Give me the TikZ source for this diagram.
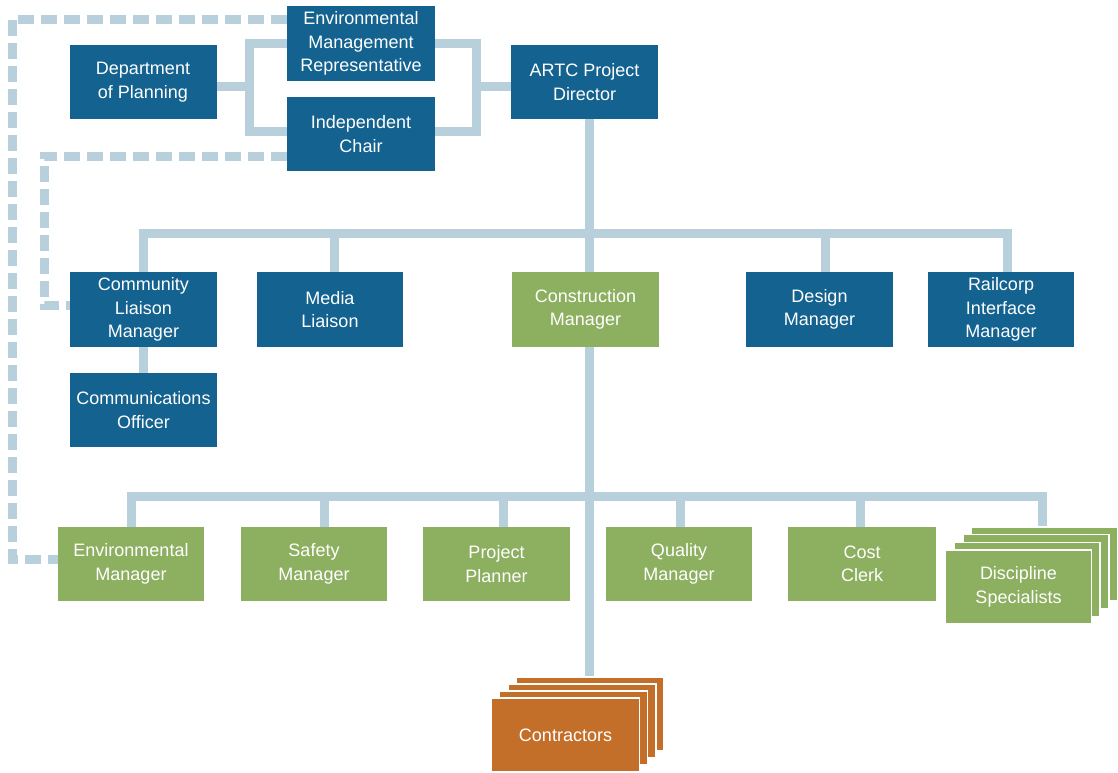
\documentclass[tikz,border=0pt]{standalone}
\usepackage{fontspec}
\setmainfont{Liberation Sans}
\definecolor{dblue}{HTML}{13628F}
\definecolor{lgreen}{HTML}{8CAF60}
\definecolor{orng}{HTML}{C46F29}
\definecolor{lnblue}{HTML}{B8CFDC}
\begin{document}
\begin{tikzpicture}[x=1pt,y=-1pt,
 box/.style={rectangle, minimum width=147pt, minimum height=74pt, inner sep=0pt, text=white, align=center, font=\fontsize{18}{23.5}\selectfont},
 bluebox/.style={box, fill=dblue},
 greenbox/.style={box, fill=lgreen},
 orangebox/.style={box, fill=orng},
 stackbox/.style={draw=white, line width=1.5pt},
 conn/.style={draw=lnblue, line width=9pt},
 dconn/.style={draw=lnblue, line width=9pt, dash pattern=on 16pt off 7pt}]
\useasboundingbox (0,0) rectangle (1118,772);
% top group
\node[bluebox, minimum width=148pt, minimum height=75pt] (emr) at (361,43.5) {Environmental\\Management\\Representative};
\node[bluebox] (dop) at (143,82) {Department\\of Planning};
\node[bluebox, minimum width=148pt] (ic) at (361,134) {Independent\\Chair};
\node[bluebox] (artc) at (584.5,82) {ARTC Project\\Director};
% row 2
\node[bluebox, minimum height=75pt] (clm) at (143.5,309.5) {Community\\Liaison\\Manager};
\node[bluebox, minimum width=146pt, minimum height=75pt] (media) at (330,309.5) {Media\\Liaison};
\node[greenbox, minimum height=75pt] (cm) at (585.5,309.5) {Construction\\Manager};
\node[bluebox, minimum height=75pt] (design) at (819.5,309.5) {Design\\Manager};
\node[bluebox, minimum width=146pt, minimum height=75pt] (railcorp) at (1001,309.5) {Railcorp\\Interface\\Manager};
\node[bluebox] (co) at (143.5,410) {Communications\\Officer};
% row 3
\node[greenbox, minimum width=146pt] (em) at (131,564) {Environmental\\Manager};
\node[greenbox, minimum width=146pt] (sm) at (314,564) {Safety\\Manager};
\node[greenbox] (pp) at (496.5,564) {Project\\Planner};
\node[greenbox, minimum width=146pt] (qm) at (679,564) {Quality\\Manager};
\node[greenbox, minimum width=148pt] (cc) at (862,564) {Cost\\Clerk};
% discipline specialists stack
\node[greenbox, stackbox, minimum width=146pt] (ds4) at (1044.5,564) {};
\node[greenbox, stackbox, minimum width=146pt] (ds3) at (1035.8,571.7) {};
\node[greenbox, stackbox, minimum width=146pt] (ds2) at (1027.2,579.3) {};
\node[greenbox, stackbox, minimum width=146pt] (ds) at (1018.5,587) {Discipline\\Specialists};
% contractors stack
\node[orangebox, stackbox, minimum width=148pt] (con4) at (590,714) {};
\node[orangebox, stackbox, minimum width=148pt] (con3) at (581.8,721) {};
\node[orangebox, stackbox, minimum width=148pt] (con2) at (573.7,728) {};
\node[orangebox, stackbox, minimum width=148pt] (con) at (565.5,735) {Contractors};
% coordinates
\coordinate (lbr) at (249,86);
\coordinate (rbr) at (476,86);
\coordinate (b2) at (589,233);
\coordinate (b3) at (589,496);
\coordinate (dA) at (12,559);
\coordinate (dB) at (44,305);
% brackets
\draw[conn] ([yshift=0.5pt]emr.west) -| (lbr) |- ([yshift=3pt]ic.west);
\draw[conn] (dop.east |- lbr) -- (lbr);
\draw[conn] ([yshift=0.5pt]emr.east) -| (rbr) |- ([yshift=3pt]ic.east);
\draw[conn] (rbr) -- (artc.west |- rbr);
% director to row 2
\draw[conn] ([xshift=4.5pt]artc.south) -- (b2);
\draw[conn] (clm.north) |- (b2) -| ([xshift=6pt]railcorp.north);
\draw[conn] ([xshift=4pt]media.north) -- ([xshift=4pt]media.north |- b2);
\draw[conn] ([xshift=5.5pt]design.north) -- ([xshift=5.5pt]design.north |- b2);
\draw[conn] (b2) -- (b2 |- cm.north);
\draw[conn] (clm.south) -- (co.north);
% construction manager down
\draw[conn] (b2 |- cm.south) -- (b2 |- con4.north);
\draw[conn] (em.north) |- (b3) -| ([xshift=-2.5pt]ds4.north);
\draw[conn] ([xshift=10pt]sm.north) -- ([xshift=10pt]sm.north |- b3);
\draw[conn] ([xshift=6.5pt]pp.north) -- ([xshift=6.5pt]pp.north |- b3);
\draw[conn] ([xshift=1pt]qm.north) -- ([xshift=1pt]qm.north |- b3);
\draw[conn] ([xshift=-2pt]cc.north) -- ([xshift=-2pt]cc.north |- b3);
% dashed links
\draw[dconn] ([yshift=24.5pt]emr.west) -| (dA) -- ([yshift=5pt]em.west);
\draw[dconn] ([yshift=-22pt]ic.west) -| (dB) -- ([yshift=4.5pt]clm.west);
\end{tikzpicture}
\end{document}
